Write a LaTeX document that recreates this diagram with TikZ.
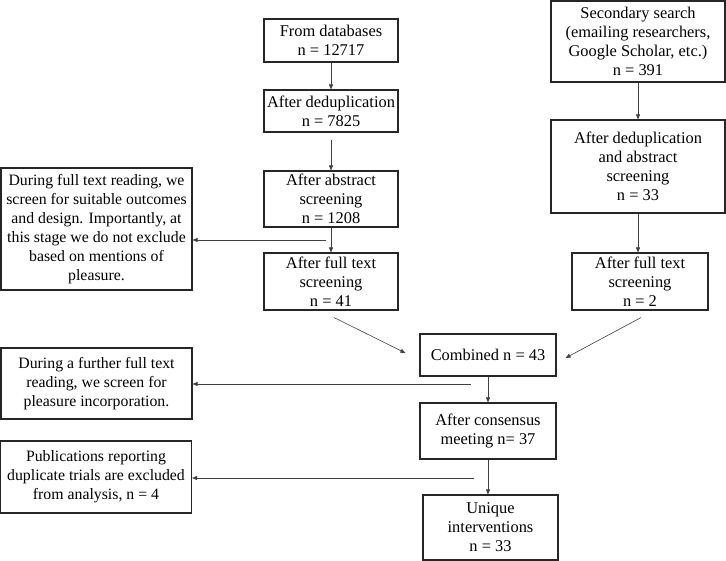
\documentclass[tikz,border=0pt]{standalone}
\usepackage{fontspec}
\setmainfont{Liberation Serif}
\usetikzlibrary{arrows.meta}
\newcommand{\fs}{\fontsize{16.4}{19}\selectfont}
\newcommand{\fsn}{\fontsize{15.8}{19}\selectfont}
\tikzset{
  box/.style={draw=black!85, line width=1.1pt, inner sep=0pt, align=center, font=\fs},
  note/.style={box, font=\fsn},
  arr/.style={-{Triangle[length=5pt,width=4pt]}, line width=0.6pt, draw=black!75}
}
\begin{document}
\begin{tikzpicture}[x=1pt,y=-1pt]
\useasboundingbox (0,0) rectangle (726,561);
% left column
\node[box, minimum width=134pt, minimum height=43pt] (db) at (331,40.5) {From databases\\n = 12717};
\node[box, minimum width=134pt, minimum height=42pt] (dedup) at (331,111) {After deduplication\\n = 7825};
\node[box, minimum width=134pt, minimum height=56pt] (abs) at (331,199) {After abstract\\screening\\n = 1208};
\node[box, minimum width=134pt, minimum height=57pt] (ft) at (331,281.5) {After full text\\screening\\n = 41};
% right column
\node[box, minimum width=174pt, minimum height=81pt] (sec) at (638,41.5) {Secondary search\\(emailing researchers,\\Google Scholar, etc.)\\n = 391};
\node[box, minimum width=174pt, minimum height=93pt] (secab) at (638,166.5) {After deduplication\\and abstract\\screening\\n = 33};
\node[box, minimum width=136pt, minimum height=57pt] (ftr) at (640,281.5) {After full text\\screening\\n = 2};
% centre column
\node[box, minimum width=136pt, minimum height=42pt] (comb) at (488,355) {Combined n = 43};
\node[box, minimum width=136pt, minimum height=56pt] (cons) at (488,431) {After consensus\\meeting n= 37};
\node[box, minimum width=135pt, minimum height=65pt] (uniq) at (490.5,527.5) {Unique\\interventions\\n = 33};
% notes
\node[note, minimum width=191pt, minimum height=122pt] (note1) at (96.5,229) {During full text reading, we\\screen for suitable outcomes\\and design. Importantly, at\\this stage we do not exclude\\based on mentions of\\pleasure.};
\node[note, minimum width=191pt, minimum height=71pt] (note2) at (96.5,383.5) {During a further full text\\reading, we screen for\\pleasure incorporation.};
\node[note, minimum width=191pt, minimum height=72pt] (note3) at (96,477) {Publications reporting\\duplicate trials are excluded\\from analysis, n = 4};
% connectors
\draw[arr] (db) -- (dedup);
\draw[arr, shorten <=7pt] (dedup) -- (abs);
\draw[arr] (abs) -- (ft);
\draw[arr] (sec.south) -- (sec.south |- secab.north);
\draw[arr] (secab.south) -- (secab.south |- ftr.north);
\draw[arr] ([xshift=3pt,yshift=-7pt]ft.south) -- ([xshift=-14pt,yshift=2pt]comb.west);
\draw[arr] ([xshift=1pt,yshift=-7pt]ftr.south) -- ([xshift=9pt,yshift=-3pt]comb.east);
\draw[arr] (comb.south) -- (comb.south |- cons.north);
\draw[arr] (cons.south) -- (cons.south |- uniq.north);
\coordinate (j1) at (326,240);
\coordinate (j2) at (471,384);
\coordinate (j3) at (474,478);
\draw[arr] (j1) -- (j1 -| note1.east);
\draw[arr] (j2) -- (j2 -| note2.east);
\draw[arr] (j3) -- (j3 -| note3.east);
\end{tikzpicture}
\end{document}
